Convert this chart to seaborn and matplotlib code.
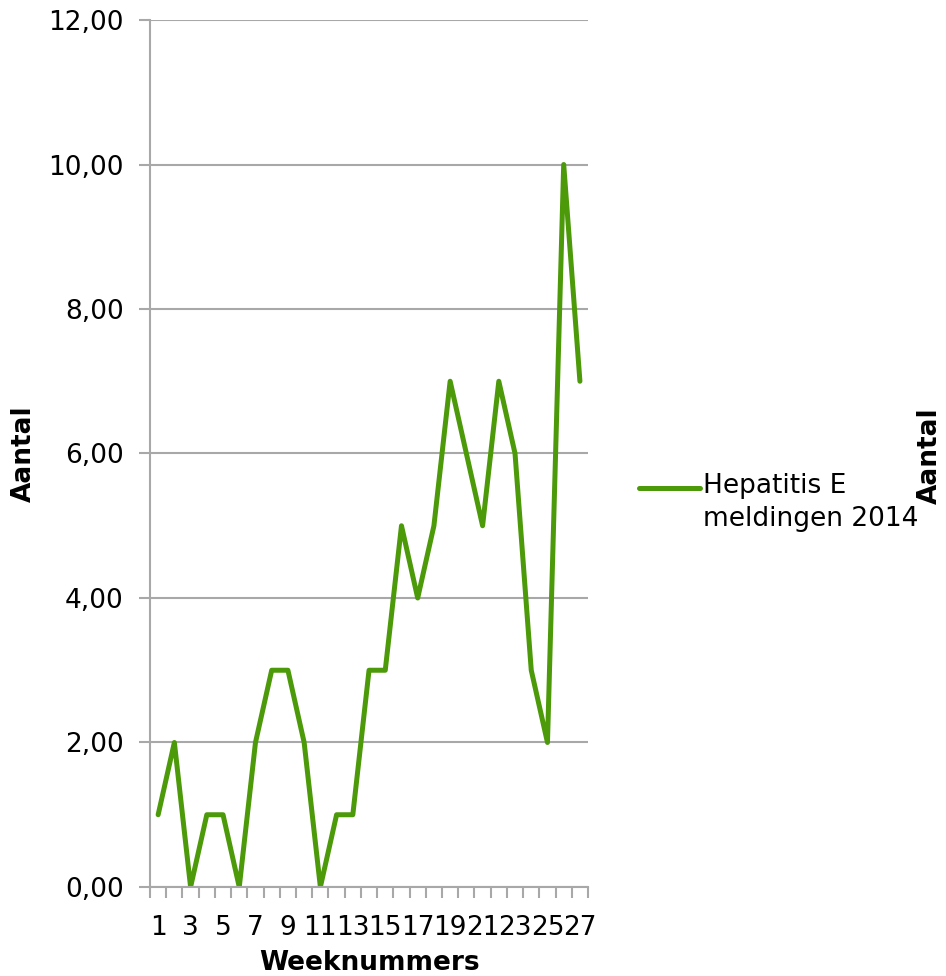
import pandas as pd
import seaborn as sns
import matplotlib.pyplot as plt

# weeknummers en aantal meldingen
weeks = list(range(1, 28))
counts = [1, 2, 0, 1, 1, 0, 2, 3, 3, 2, 0, 1, 1, 3, 3, 5, 4, 5, 7, 6, 5, 7, 6, 3, 2, 10, 7]
series_name = "Hepatitis E\nmeldingen 2014"
y_ticks = [0, 2, 4, 6, 8, 10, 12]
x_labels = [str(w) for w in weeks if w % 2 == 1]

FS = 19
GRAY = "#a8a8a8"


def set_config():
    sns.set_theme(style="white")
    plt.rcParams["font.family"] = ["DejaVu Sans"]
    plt.rcParams["text.color"] = "black"
    plt.rcParams["axes.labelcolor"] = "black"
    plt.rcParams["xtick.color"] = "black"
    plt.rcParams["ytick.color"] = "black"


def main():
    set_config()
    df = pd.DataFrame({"week": weeks, "aantal": counts})

    fig = plt.figure(figsize=(9.46, 9.76), dpi=100)
    ax = fig.add_axes([0.1586, 0.0912, 0.6216 - 0.1586, 0.9795 - 0.0912])

    sns.lineplot(data=df, x="week", y="aantal", color="#4c9a0a", linewidth=3.6,
                 label=series_name, ax=ax)

    ax.set_xlim(0.5, 27.5)
    ax.set_ylim(0, 12)
    ax.set_yticks(y_ticks)
    ax.set_yticklabels([f"{v:.2f}".replace(".", ",") for v in y_ticks], fontsize=FS)
    ax.yaxis.grid(True, color=GRAY, linewidth=1.5)
    ax.tick_params(axis="y", left=True, length=8, width=1.5, color=GRAY,
                   labelcolor="black", pad=11)

    # tickmarks tussen de weken, labels op oneven weken
    ax.set_xticks([w - 0.5 for w in weeks] + [27.5])
    ax.set_xticklabels([])
    ax.set_xticks([w for w in weeks if w % 2 == 1], minor=True)
    ax.set_xticklabels(x_labels, minor=True, fontsize=FS)
    ax.tick_params(axis="x", which="major", bottom=True, length=8, width=1.5, color=GRAY)
    ax.tick_params(axis="x", which="minor", bottom=True, length=0, pad=20,
                   labelcolor="black")

    for side in ["top", "right"]:
        ax.spines[side].set_visible(False)
    for side in ["left", "bottom"]:
        ax.spines[side].set_color(GRAY)
        ax.spines[side].set_linewidth(1.5)

    ax.set_xlabel("Weeknummers", fontsize=FS, fontweight="bold", labelpad=7)
    ax.set_ylabel("")
    fig.text(0.025, 0.535, "Aantal", rotation=90, fontsize=FS, fontweight="bold",
             ha="center", va="center")

    leg = ax.legend(loc="center left", bbox_to_anchor=(0.676, 0.485),
                    bbox_transform=fig.transFigure, frameon=False, fontsize=FS,
                    handlelength=2.3, handletextpad=0.1, borderaxespad=0, borderpad=0)
    leg.get_texts()[0].set_linespacing(1.33)
    # lijntje naast de eerste regel zetten
    handle = leg.get_lines()[0]
    handle.set_ydata([v + 11 for v in handle.get_ydata()])

    fig.text(0.983, 0.533, "Aantal", rotation=90, fontsize=FS, fontweight="bold",
             ha="center", va="center")

    fig.savefig("out.png", dpi=100)


if __name__ == "__main__":
    main()
